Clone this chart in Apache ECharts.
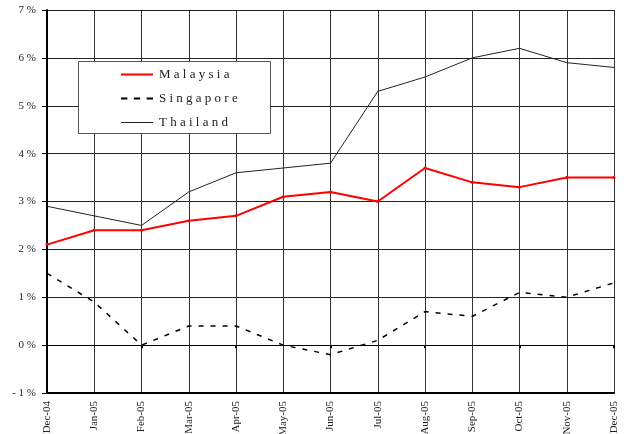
<!DOCTYPE html>
<html><head><meta charset="utf-8">
<script src="https://cdn.jsdelivr.net/npm/echarts@6/dist/echarts.min.js"></script>
<style>html,body{margin:0;padding:0;background:#fff}#c{width:634px;height:434px}</style>
</head><body><div id="c"></div>
<script>
const categories = ['Dec-04','Jan-05','Feb-05','Mar-05','Apr-05','May-05','Jun-05','Jul-05','Aug-05','Sep-05','Oct-05','Nov-05','Dec-05'];
const malaysia  = [2.1, 2.4, 2.4, 2.6, 2.7, 3.1, 3.2, 3.0, 3.7, 3.4, 3.3, 3.5, 3.5];
const singapore = [1.5, 0.9, 0.0, 0.4, 0.4, 0.0, -0.2, 0.1, 0.7, 0.6, 1.1, 1.0, 1.3];
const thailand  = [2.9, 2.7, 2.5, 3.2, 3.6, 3.7, 3.8, 5.3, 5.6, 6.0, 6.2, 5.9, 5.8];

const serif = '"Liberation Serif","DejaVu Serif",serif';
const chart = echarts.init(document.getElementById('c'));
chart.setOption({
  animation: false,
  grid: {left: 47, right: 20, top: 10, bottom: 41, containLabel: false, outerBoundsMode: 'none'},
  graphic: [{
    type: 'rect', left: 78, top: 61, z: 5,
    shape: {width: 192, height: 72},
    style: {fill: '#fff', stroke: '#555', lineWidth: 1}
  }],
  legend: {
    orient: 'vertical', left: 121, top: 68, z: 10,
    padding: 0,
    itemWidth: 32, itemHeight: 10, itemGap: 11,
    formatter: n => n.split('').join(' '),
    textStyle: {fontFamily: serif, fontSize: 13, color: '#222', padding: [0, 0, 0, 1]},
    data: [
      {name: 'Malaysia', icon: 'path://M0,4H32V6H0Z'},
      {name: 'Singapore', icon: 'path://M0,4H6V6H0ZM12,4H18V6H12ZM24,4H30V6H24Z'},
      {name: 'Thailand', icon: 'path://M0,4.5H32V5.5H0Z'}
    ]
  },
  xAxis: [{
    type: 'category', data: categories, boundaryGap: false,
    axisLine: {onZero: false, lineStyle: {color: '#000', width: 2}},
    axisTick: {show: false},
    axisLabel: {rotate: 90, fontFamily: serif, fontSize: 11, color: '#222', margin: 8, interval: 0},
    splitLine: {show: true, lineStyle: {color: '#333', width: 1}}
  }, {
    type: 'category', data: categories, boundaryGap: false,
    axisLine: {onZero: true, lineStyle: {color: '#000', width: 1}},
    axisTick: {show: true, inside: true, length: 3, alignWithLabel: true, lineStyle: {color: '#000', width: 2}},
    axisLabel: {show: false}, splitLine: {show: false}
  }],
  yAxis: {
    type: 'value', min: -1, max: 7, interval: 1,
    axisLine: {show: true, lineStyle: {color: '#000', width: 2}},
    axisTick: {show: true, length: 5, lineStyle: {color: '#000'}},
    axisLabel: {formatter: v => (v < 0 ? '- ' + (-v) : v) + ' %', fontFamily: serif, fontSize: 11, color: '#222', margin: 11},
    splitLine: {show: true, lineStyle: {color: '#222', width: 1}}
  },
  series: [
    {name: 'Malaysia', type: 'line', data: malaysia, color: '#ff0000',
     symbol: 'circle', symbolSize: 3, lineStyle: {width: 2, color: '#ff0000'}, itemStyle: {color: '#ff0000'}},
    {name: 'Singapore', type: 'line', data: singapore, color: '#000',
     symbol: 'none', lineStyle: {width: 1.5, type: [5, 7], color: '#000'}},
    {name: 'Thailand', type: 'line', data: thailand, color: '#222',
     symbol: 'none', lineStyle: {width: 1, color: '#222'}}
  ]
});
</script></body></html>
